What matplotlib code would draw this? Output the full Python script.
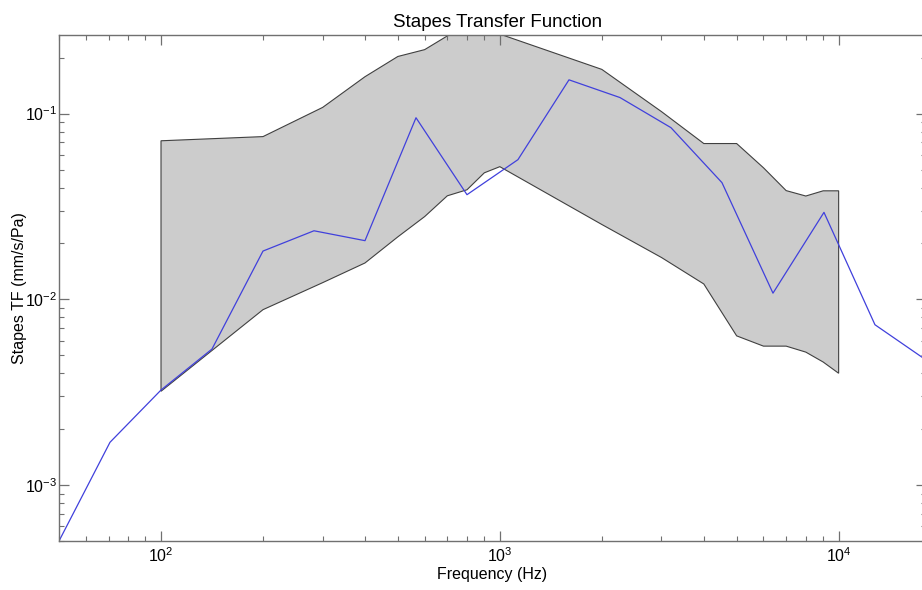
#!/usr/bin/env python3
"""Stapes transfer function: measured band with model curve."""

import matplotlib
matplotlib.use("Agg")
import matplotlib.pyplot as plt
from matplotlib.ticker import LogLocator

plt.rcParams["font.family"] = ["Liberation Sans", "DejaVu Sans"]
plt.rcParams["mathtext.default"] = "regular"

# model curve (half-octave steps)
freq_model = [50, 70.7, 100, 141.4, 200, 282.8, 400, 565.7, 800, 1131, 1600,
              2263, 3200, 4525, 6400, 9051, 12800, 18102]
tf_model = [5.0e-4, 1.7e-3, 3.25e-3, 5.4e-3, 0.0182, 0.0234, 0.0207, 0.095,
            0.0366, 0.0565, 0.152, 0.122, 0.084, 0.0425, 0.0108, 0.0294,
            7.3e-3, 4.72e-3]

# measured range (band)
freq_band = [100, 200, 300, 400, 500, 600, 700, 800, 900, 1000, 2000, 3000,
             4000, 5000, 6000, 7000, 8000, 9000, 10000]
band_upper = [0.0714, 0.0752, 0.108, 0.158, 0.203, 0.221, 0.262, 0.29, 0.29,
              0.268, 0.173, 0.1025, 0.069, 0.069, 0.0511, 0.0385, 0.036,
              0.0384, 0.0384]
band_lower = [3.2e-3, 8.8e-3, 0.0123, 0.0157, 0.0217, 0.0279, 0.0361, 0.0389,
              0.048, 0.0518, 0.0253, 0.0168, 0.0121, 6.36e-3, 5.6e-3, 5.6e-3,
              5.2e-3, 4.6e-3, 4.0e-3]

fig = plt.figure(figsize=(9.22, 5.9), dpi=100)
ax = fig.add_axes([0.064, 0.083, 0.9403, 0.8577])

poly_x = freq_band + freq_band[::-1]
poly_y = band_upper + band_lower[::-1]
ax.fill(poly_x, poly_y, facecolor="#cccccc", edgecolor="#404040", linewidth=0.8)
ax.plot(freq_model, tf_model, color="#4040dc", linewidth=0.9)

ax.set_xscale("log")
ax.set_yscale("log")
ax.set_xlim(50, 18102)
ax.set_ylim(5e-4, 0.265)

ax.xaxis.set_minor_locator(LogLocator(base=10, subs=range(2, 10), numticks=20))
ax.yaxis.set_minor_locator(LogLocator(base=10, subs=range(2, 10), numticks=20))
ax.tick_params(which="both", direction="in", top=True, right=True,
               color="#707070", labelsize=11.5)
ax.tick_params(which="major", length=7.2, width=0.9)
ax.tick_params(which="minor", length=3.3, width=0.8)
ax.tick_params(axis="y", which="major", pad=1)
for s in ax.spines.values():
    s.set_color("#707070")
    s.set_linewidth(1.0)

ax.set_title("Stapes Transfer Function", fontsize=13.5, pad=6, x=0.506)
ax.set_xlabel("Frequency (Hz)", fontsize=11.5, labelpad=2)
ax.set_ylabel("Stapes TF (mm/s/Pa)", fontsize=11.5)
ax.yaxis.set_label_coords(-0.037, 0.5)

fig.savefig("out.png", dpi=100)
